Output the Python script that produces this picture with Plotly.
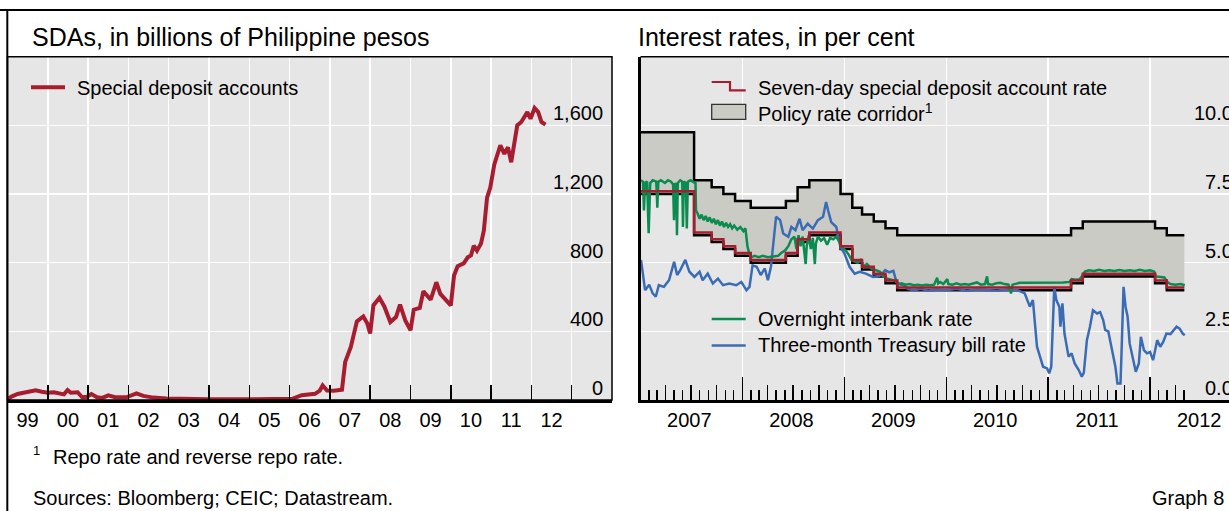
import plotly.graph_objects as go
from datetime import datetime

W, H = 1229, 511
FONT = "Liberation Sans, Arial, sans-serif"

# ---------------- data ----------------
# Left panel: special deposit accounts, billions of PHP (decimal year, value)
sda_t = [1999.0, 1999.1, 1999.25, 1999.4, 1999.55, 1999.7, 1999.85, 2000.0, 2000.15, 2000.3,
         2000.4, 2000.49, 2000.57, 2000.74, 2000.85, 2000.97, 2001.08, 2001.22, 2001.35, 2001.5,
         2001.67, 2001.95, 2002.1, 2002.2, 2002.37, 2002.62, 2002.95, 2003.3, 2003.5, 2003.7,
         2004.0, 2005.0, 2005.9, 2006.08, 2006.3, 2006.5, 2006.63, 2006.75, 2006.82, 2006.93,
         2007.1, 2007.3, 2007.38, 2007.52, 2007.67, 2007.83, 2007.93, 2008.0, 2008.08, 2008.23,
         2008.35, 2008.5, 2008.64, 2008.74, 2008.87, 2009.0, 2009.08, 2009.23, 2009.32, 2009.5,
         2009.64, 2009.74, 2009.84, 2010.0, 2010.08, 2010.17, 2010.32, 2010.42, 2010.5, 2010.57,
         2010.65, 2010.75, 2010.82, 2010.9, 2010.98, 2011.08, 2011.23, 2011.33, 2011.42, 2011.5,
         2011.65, 2011.75, 2011.9, 2011.98, 2012.08, 2012.17, 2012.25, 2012.35]
sda_v = [5, 20, 35, 42, 54, 56, 48, 42, 45, 35,
         33, 58, 42, 45, 16, 19, 35, 16, 12, 27,
         16, 16, 28, 39, 24, 14, 9, 6, 10, 5,
         4, 4, 5, 8, 28, 32, 36, 55, 85, 55,
         54, 60, 222, 309, 458, 487, 445, 387, 551, 595,
         545, 454, 483, 556, 464, 406, 526, 537, 634, 584,
         686, 618, 595, 551, 725, 779, 796, 831, 842, 899,
         870, 912, 986, 1179, 1237, 1372, 1484, 1434, 1472, 1385,
         1600, 1620, 1677, 1639, 1701, 1677, 1620, 1604]

# Right panel: policy corridor and seven-day SDA rate (step dates)
policy_dates = ["2007-01-01", "2007-07-12", "2007-09-13", "2007-10-25", "2007-12-06",
                "2008-01-31", "2008-06-05", "2008-07-17", "2008-08-28", "2008-12-18",
                "2009-01-29", "2009-03-05", "2009-04-16", "2009-05-28", "2009-07-09",
                "2011-03-24", "2011-05-05", "2012-01-19", "2012-03-01", "2012-05-03"]
reverse_repo = [7.5, 6.0, 5.75, 5.5, 5.25, 5.0, 5.25, 5.75, 6.0, 5.5,
                5.0, 4.75, 4.5, 4.25, 4.0, 4.25, 4.5, 4.25, 4.0, 4.0]
repo = [9.75, 8.0, 7.75, 7.5, 7.25, 7.0, 7.25, 7.75, 8.0, 7.5,
        7.0, 6.75, 6.5, 6.25, 6.0, 6.25, 6.5, 6.25, 6.0, 6.0]
sda_rate = [7.6, 6.1, 5.85, 5.6, 5.35, 5.1, 5.35, 5.85, 6.1, 5.6,
            5.1, 4.85, 4.6, 4.35, 4.1, 4.35, 4.6, 4.35, 4.1, 4.1]

# Overnight interbank rate (decimal year, per cent)
ib_t = [2007.0, 2007.025, 2007.034, 2007.045, 2007.065, 2007.080, 2007.095, 2007.12, 2007.155, 2007.165,
        2007.175, 2007.2, 2007.24, 2007.27, 2007.30, 2007.32, 2007.329, 2007.34, 2007.352, 2007.358,
        2007.366, 2007.39, 2007.41, 2007.417, 2007.425, 2007.445, 2007.455, 2007.465, 2007.49, 2007.52,
        2007.54, 2007.545, 2007.56, 2007.58, 2007.60, 2007.62, 2007.64, 2007.66, 2007.68, 2007.70,
        2007.72, 2007.74, 2007.76, 2007.78, 2007.80, 2007.82, 2007.84, 2007.86, 2007.88, 2007.90,
        2007.92, 2007.95, 2007.98, 2008.01, 2008.03, 2008.05, 2008.07, 2008.09, 2008.12, 2008.16,
        2008.20, 2008.25, 2008.30, 2008.35, 2008.38, 2008.42, 2008.45, 2008.48, 2008.51, 2008.53,
        2008.55, 2008.57, 2008.59, 2008.61, 2008.62, 2008.63, 2008.65, 2008.67, 2008.69, 2008.71,
        2008.72, 2008.74, 2008.77, 2008.80, 2008.83, 2008.86, 2008.89, 2008.92, 2008.95, 2008.98,
        2009.01, 2009.04, 2009.07, 2009.10, 2009.13, 2009.16, 2009.19, 2009.22, 2009.26, 2009.29,
        2009.32, 2009.35, 2009.38, 2009.42, 2009.46, 2009.50, 2009.53, 2009.56, 2009.60, 2009.64,
        2009.68, 2009.72, 2009.76, 2009.80, 2009.84, 2009.88, 2009.91, 2009.92, 2009.94, 2009.97,
        2010.01, 2010.02, 2010.06, 2010.10, 2010.14, 2010.18, 2010.22, 2010.26, 2010.30, 2010.34,
        2010.38, 2010.40, 2010.41, 2010.45, 2010.49, 2010.53, 2010.57, 2010.61, 2010.635, 2010.65,
        2010.69, 2010.72, 2010.76, 2010.80, 2010.85, 2010.90, 2010.95, 2011.00, 2011.05, 2011.10,
        2011.15, 2011.21, 2011.23, 2011.27, 2011.31, 2011.34, 2011.36, 2011.40, 2011.45, 2011.50,
        2011.55, 2011.60, 2011.65, 2011.70, 2011.75, 2011.80, 2011.85, 2011.90, 2011.95, 2012.00,
        2012.04, 2012.06, 2012.10, 2012.14, 2012.17, 2012.20, 2012.25, 2012.30, 2012.34]
ib_v = [8.0, 7.95, 6.9, 7.9, 7.95, 6.07, 7.9, 8.0, 7.95, 7.0,
        7.95, 8.0, 7.9, 8.0, 7.95, 7.85, 6.55, 7.9, 7.8, 6.0,
        7.9, 8.0, 7.95, 6.3, 7.95, 7.9, 6.25, 7.95, 8.0, 7.95,
        7.9, 6.9, 6.8, 6.6, 6.75, 6.55, 6.7, 6.5, 6.65, 6.45,
        6.6, 6.4, 6.55, 6.35, 6.5, 6.3, 6.45, 6.3, 6.4, 6.25,
        6.35, 6.2, 6.3, 6.15, 6.25, 5.6, 5.3, 5.2, 5.25, 5.2,
        5.25, 5.2, 5.22, 5.25, 5.35, 5.45, 5.6, 5.85, 5.95, 5.5,
        6.0, 5.6, 5.95, 5.3, 4.95, 5.6, 6.0, 5.5, 5.9, 4.95,
        5.7, 5.95, 5.8, 5.9, 5.65, 5.9, 5.85, 5.95, 5.75, 5.55,
        5.45, 5.3, 5.1, 5.05, 5.0, 5.1, 4.85, 4.95, 4.8, 4.75,
        4.72, 4.67, 4.5, 4.42, 4.38, 4.33, 4.22, 4.25, 4.2, 4.22,
        4.18, 4.2, 4.17, 4.2, 4.18, 4.2, 4.45, 4.25, 4.3, 4.22,
        4.4, 4.22, 4.2, 4.25, 4.2, 4.22, 4.2, 4.25, 4.28, 4.2,
        4.22, 4.5, 4.22, 4.2, 4.25, 4.27, 4.22, 4.2, 3.88, 4.2,
        4.25, 4.27, 4.27, 4.27, 4.28, 4.27, 4.28, 4.27, 4.28, 4.27,
        4.28, 4.3, 4.4, 4.38, 4.4, 4.55, 4.68, 4.72, 4.7, 4.74,
        4.7, 4.72, 4.7, 4.73, 4.7, 4.72, 4.7, 4.74, 4.7, 4.72,
        4.68, 4.5, 4.48, 4.46, 4.3, 4.22, 4.2, 4.22, 4.18]

# Three-month Treasury bill rate (decimal year, per cent)
tb_t = [2007.005, 2007.02, 2007.045, 2007.085, 2007.12, 2007.15, 2007.18, 2007.23, 2007.28, 2007.33,
        2007.36, 2007.39, 2007.44, 2007.48, 2007.53, 2007.58, 2007.61, 2007.66, 2007.71, 2007.76,
        2007.81, 2007.87, 2007.94, 2007.99, 2008.04, 2008.07, 2008.10, 2008.14, 2008.18, 2008.22,
        2008.25, 2008.28, 2008.33, 2008.37, 2008.40, 2008.45, 2008.48, 2008.52, 2008.56, 2008.59,
        2008.64, 2008.69, 2008.74, 2008.79, 2008.82, 2008.84, 2008.87, 2008.92, 2008.96, 2009.0,
        2009.05, 2009.10, 2009.15, 2009.21, 2009.28, 2009.32, 2009.36, 2009.40, 2009.44, 2009.48,
        2009.51, 2009.55, 2009.58, 2009.62, 2009.68, 2009.75, 2009.82, 2009.9, 2010.0, 2010.1,
        2010.2, 2010.3, 2010.4, 2010.5, 2010.6, 2010.7, 2010.77, 2010.82, 2010.85, 2010.87,
        2010.89, 2010.92, 2010.95, 2010.99, 2011.01, 2011.03, 2011.05, 2011.06, 2011.08, 2011.11,
        2011.12, 2011.14, 2011.16, 2011.2, 2011.23, 2011.26, 2011.3, 2011.33, 2011.35, 2011.38,
        2011.41, 2011.44, 2011.48, 2011.51, 2011.54, 2011.56, 2011.59, 2011.62, 2011.66, 2011.68,
        2011.71, 2011.72, 2011.74, 2011.76, 2011.78, 2011.8, 2011.84, 2011.86, 2011.89, 2011.91,
        2011.94, 2011.97, 2012.0, 2012.03, 2012.07, 2012.1, 2012.13, 2012.16, 2012.2, 2012.23,
        2012.26, 2012.29, 2012.32, 2012.34]
tb_v = [5.1, 4.6, 4.0, 4.2, 3.88, 3.76, 4.18, 4.12, 4.36, 5.03,
        4.55, 4.73, 5.1, 4.67, 4.48, 4.67, 4.36, 4.6, 4.24, 4.42,
        4.18, 4.24, 4.18, 4.3, 4.0, 4.12, 4.9, 4.85, 4.55, 4.79,
        4.36, 4.85, 6.67, 6.55, 6.06, 5.94, 6.3, 6.18, 6.6, 6.18,
        6.42, 6.24, 6.55, 6.67, 7.21, 6.9, 6.48, 6.3, 5.58, 5.33,
        4.85, 4.6, 4.67, 4.6, 4.48, 4.5, 4.55, 4.73, 4.65, 4.7,
        4.3, 4.2, 4.18, 4.05, 4.0, 4.05, 3.98, 4.02, 4.0, 4.05,
        3.98, 4.02, 4.0, 3.98, 4.02, 4.0, 3.88, 3.4, 3.64, 2.91,
        1.94, 1.58, 1.21, 1.15, 0.97, 1.21, 3.15, 4.12, 3.64, 3.39,
        2.67, 3.52, 2.42, 1.58, 1.7, 1.33, 1.09, 0.85, 1.0, 2.18,
        2.67, 3.27, 3.15, 3.2, 2.91, 2.55, 2.5, 1.94, 1.21, 0.6,
        0.6, 1.7, 4.12, 3.39, 3.03, 2.06, 1.33, 1.03, 1.33, 2.3,
        1.82, 1.7, 1.75, 1.45, 2.18, 1.94, 2.12, 2.42, 2.4, 2.55,
        2.67, 2.6, 2.42, 2.36]

sda_ticks = [0, 400, 800, 1200, 1600]
sda_tick_text = ["0", "400", "800", "1,200", "1,600"]
rate_ticks = [0.0, 2.5, 5.0, 7.5, 10.0]
rate_tick_text = ["0.0", "2.5", "5.0", "7.5", "10.0"]
left_years = list(range(1999, 2013))
left_year_text = [f"{y % 100:02d}" for y in left_years]
right_years = list(range(2007, 2013))
right_year_text = [str(y) for y in right_years]
# month ticks of the right panel run to the end of the data (May 2012)
right_months = [f"{y}-{m:02d}-01" for y in range(2007, 2013) for m in range(1, 13)
                if (y, m) <= (2012, 5) and (y, m) != (2007, 1)]
right_quarters = [d for d in right_months if int(d[5:7]) in (1, 4, 7, 10)]

# ---------------- helpers ----------------
def ydate(v):
    y = int(v)
    a, b = datetime(y, 1, 1), datetime(y + 1, 1, 1)
    return a + (b - a) * (v - y)

def px(x):
    return x / W

def py(y):
    return 1 - y / H

RED = "#a71c2f"
GREEN = "#0a8b4f"
BLUE = "#3a6cb5"
CORR = "#cbcbc6"
BG = "#e6e6e6"

fig = go.Figure()

fig.add_trace(go.Scatter(x=[ydate(t) for t in sda_t], y=sda_v, mode="lines",
                         line=dict(color=RED, width=4), xaxis="x", yaxis="y",
                         showlegend=False, hoverinfo="skip"))

fig.add_trace(go.Scatter(x=policy_dates, y=reverse_repo, mode="lines",
                         line=dict(color="black", width=2.5, shape="hv"),
                         xaxis="x2", yaxis="y2", showlegend=False, hoverinfo="skip"))
fig.add_trace(go.Scatter(x=policy_dates, y=repo, mode="lines", fill="tonexty", fillcolor=CORR,
                         line=dict(color="black", width=2.5, shape="hv"),
                         xaxis="x2", yaxis="y2", showlegend=False, hoverinfo="skip"))
fig.add_trace(go.Scatter(x=[ydate(t) for t in tb_t], y=tb_v, mode="lines",
                         line=dict(color=BLUE, width=2.5), xaxis="x2", yaxis="y2",
                         showlegend=False, hoverinfo="skip"))
fig.add_trace(go.Scatter(x=[ydate(t) for t in ib_t], y=ib_v, mode="lines",
                         line=dict(color=GREEN, width=2.5), xaxis="x2", yaxis="y2",
                         showlegend=False, hoverinfo="skip"))
fig.add_trace(go.Scatter(x=policy_dates, y=sda_rate, mode="lines",
                         line=dict(color=RED, width=2.5, shape="hv"),
                         xaxis="x2", yaxis="y2", showlegend=False, hoverinfo="skip"))
# carrier for the monthly/quarterly tick axis
fig.add_trace(go.Scatter(x=[], y=[], xaxis="x3", yaxis="y2", showlegend=False, hoverinfo="skip"))

YDOM = [py(400), py(56.7)]
tickfont = dict(family=FONT, size=20, color="black")
RIGHT_RANGE = ["2007-01-01", "2012-10-10"]

fig.update_layout(
    width=W, height=H, margin=dict(l=0, r=0, t=0, b=0),
    paper_bgcolor="white", plot_bgcolor=BG, showlegend=False,
    font=dict(family=FONT, size=20, color="black"),
    xaxis=dict(domain=[px(7.5), px(612)], anchor="y", type="date",
               range=["1999-01-01", "2014-01-01"],
               tickmode="array", tickvals=[f"{y}-07-02" for y in left_years],
               ticktext=left_year_text, ticks="", showgrid=False, zeroline=False,
               showline=True, linecolor="black", linewidth=3, tickfont=tickfont,
               minor=dict(tickmode="array", tickvals=[f"{y}-01-01" for y in range(2000, 2014)],
                          ticks="inside", ticklen=15, tickwidth=1.5, tickcolor="black",
                          showgrid=True, gridcolor="white", gridwidth=1.5),
               fixedrange=True),
    yaxis=dict(domain=YDOM, anchor="x", range=[0, 2000], tickmode="linear", tick0=0, dtick=400,
               showticklabels=False, ticks="", showgrid=True, gridcolor="white", gridwidth=1.5,
               zeroline=False, showline=False, fixedrange=True),
    xaxis2=dict(domain=[px(640.5), 1.0], anchor="y2", type="date", range=RIGHT_RANGE,
                tickmode="array", tickvals=[f"{y}-06-25" for y in right_years],
                ticktext=right_year_text, ticks="", showgrid=False, zeroline=False,
                showline=True, linecolor="black", linewidth=3, tickfont=tickfont,
                minor=dict(tickmode="array", tickvals=[f"{y}-01-01" for y in range(2008, 2013)],
                           ticks="inside", ticklen=23, tickwidth=1.5, tickcolor="black",
                           showgrid=True, gridcolor="white", gridwidth=1.5),
                fixedrange=True),
    xaxis3=dict(overlaying="x2", anchor="y2", type="date", range=RIGHT_RANGE,
                tickmode="array", tickvals=right_quarters, ticks="inside",
                ticklen=15, tickwidth=1.5, tickcolor="black", showticklabels=False,
                showgrid=False, zeroline=False, showline=False,
                minor=dict(tickmode="array", tickvals=right_months, ticks="inside", ticklen=10,
                           tickwidth=1.5, tickcolor="black", showgrid=False),
                fixedrange=True),
    yaxis2=dict(domain=YDOM, anchor="x2", range=[0, 12.5], tickmode="linear", tick0=0, dtick=2.5,
                showticklabels=False, ticks="", showgrid=True, gridcolor="white", gridwidth=1.5,
                zeroline=False, showline=True, linecolor="black", linewidth=3, fixedrange=True),
)

shapes = []
# outer frame lines
shapes.append(dict(type="line", xref="paper", yref="paper", x0=0, x1=1, y0=py(10), y1=py(10),
                   line=dict(color="black", width=2)))
shapes.append(dict(type="line", xref="paper", yref="paper", x0=px(7.3), x1=px(7.3), y0=0, y1=py(10),
                   line=dict(color="black", width=2)))
# left panel frame
shapes.append(dict(type="rect", xref="x domain", yref="y domain", x0=0, x1=1, y0=0, y1=1,
                   line=dict(color="black", width=1.5), layer="above"))
# right panel top border
shapes.append(dict(type="line", xref="x2 domain", yref="y2 domain", x0=0, x1=1, y0=1, y1=1,
                   line=dict(color="black", width=1.5), layer="above"))

# legend keys
shapes.append(dict(type="line", xref="paper", yref="paper", x0=px(31), x1=px(65), y0=py(87.3), y1=py(87.3),
                   line=dict(color=RED, width=4)))
shapes.append(dict(type="path", xref="paper", yref="paper",
                   path=f"M {px(711.7)},{py(82)} L {px(730)},{py(82)} L {px(730)},{py(90.3)} L {px(745.7)},{py(90.3)}",
                   line=dict(color=RED, width=2.2)))
shapes.append(dict(type="rect", xref="paper", yref="paper", x0=px(711.7), x1=px(745.7),
                   y0=py(119.3), y1=py(104.3), fillcolor=CORR, line=dict(color="#333333", width=1.3)))
shapes.append(dict(type="line", xref="paper", yref="paper", x0=px(711.7), x1=px(745.7), y0=py(319), y1=py(319),
                   line=dict(color=GREEN, width=2.5)))
shapes.append(dict(type="line", xref="paper", yref="paper", x0=px(711.7), x1=px(745.7), y0=py(345.5), y1=py(345.5),
                   line=dict(color=BLUE, width=2.5)))
fig.update_layout(shapes=shapes)

ann = []
def text(x, y, s, size=20, anchor="left"):
    ann.append(dict(xref="paper", yref="paper", x=px(x), y=py(y), text=s, showarrow=False,
                    xanchor=anchor, yanchor="middle", font=dict(family=FONT, size=size, color="black")))

text(30, 37, "SDAs, in billions of Philippine pesos", size=25)
text(636, 37, "Interest rates, in per cent", size=25)
text(75, 87.5, "Special deposit accounts")
text(756, 87.5, "Seven-day special deposit account rate")
text(756, 113, "Policy rate corridor<sup>1</sup>")
text(756, 319, "Overnight interbank rate")
text(756, 344.5, "Three-month Treasury bill rate")
text(31, 450, "1", size=13)
text(51, 457, "Repo rate and reverse repo rate.")
text(31, 498, "Sources: Bloomberg; CEIC; Datastream.")
text(1226, 497.5, "Graph 8", anchor="right")

for v, s in zip(sda_ticks, sda_tick_text):
    ann.append(dict(xref="paper", yref="y", x=px(605), y=v, yshift=12, text=s, showarrow=False,
                    xanchor="right", yanchor="middle", font=dict(family=FONT, size=20, color="black")))
for v, s in zip(rate_ticks, rate_tick_text):
    ann.append(dict(xref="paper", yref="y2", x=px(1234.5), y=v, yshift=12, text=s, showarrow=False,
                    xanchor="right", yanchor="middle", font=dict(family=FONT, size=20, color="black")))

fig.update_layout(annotations=ann)
fig.write_html("out.html", config={"displayModeBar": False, "staticPlot": True},
               post_script="document.body.style.margin='0';document.body.style.padding='0';"
                           "document.body.style.overflow='hidden';")
